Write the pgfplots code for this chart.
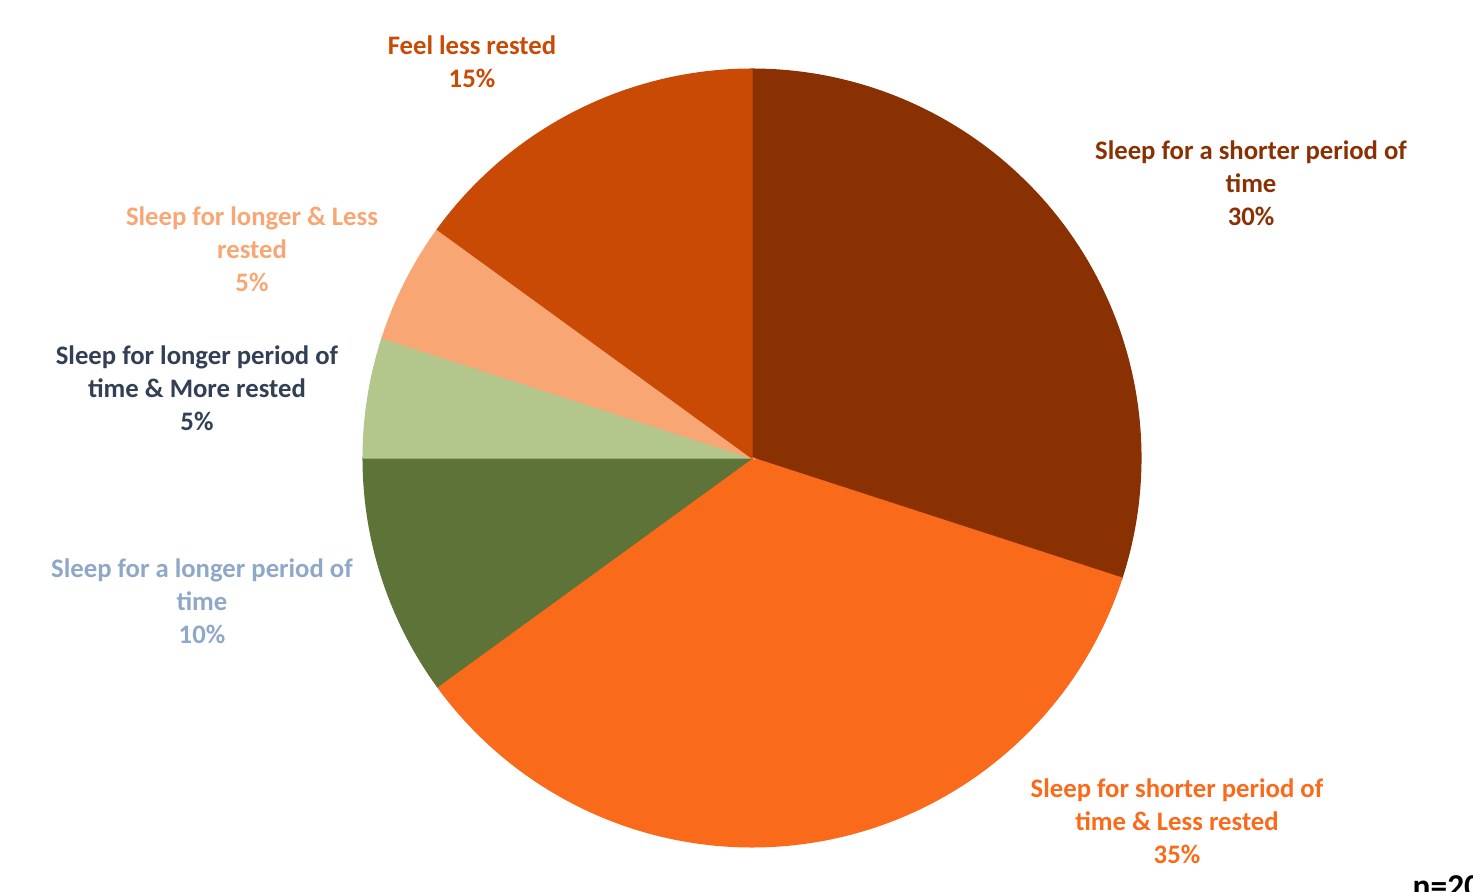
\documentclass[border=0pt]{standalone}
\usepackage{pgfplots}
\pgfplotsset{compat=1.18}
\usepackage{pgfplotstable}
\usepackage{fontspec}
\setmainfont{Carlito}
\definecolor{cBrown}{HTML}{8A3103}
\definecolor{cOrange}{HTML}{F96A1B}
\definecolor{cDGreen}{HTML}{5E7337}
\definecolor{cLGreen}{HTML}{B3C68B}
\definecolor{cPeach}{HTML}{F9A675}
\definecolor{cDOrange}{HTML}{C84A05}
\definecolor{cNavy}{HTML}{323F55}
\definecolor{cBlue}{HTML}{8FA8C8}
\tikzset{lbl/.style={font=\bfseries\fontsize{7.6}{9.4}\selectfont, align=center}}
% percent shares, clockwise from 12 o'clock
\pgfplotstableread{
pct
30
35
10
5
5
15
}\piedata
\begin{document}
\begin{tikzpicture}
\begin{axis}[
  width=14.73cm, height=8.91cm, scale only axis,
  xmin=-1.9282, xmax=1.8487, ymin=-1.1103, ymax=1.1744,
  hide axis, clip=false,
]
% slice angles: start 90, each share * 3.6 degrees clockwise
\addplot[fill=cBrown, draw=cBrown, domain=90:-18, samples=120, variable=\t] ({0.997*cos(\t)},{0.997*sin(\t)}) -- (axis cs:0,0) -- cycle;
\addplot[fill=cOrange, draw=cOrange, domain=-18:-144, samples=120, variable=\t] ({0.997*cos(\t)},{0.997*sin(\t)}) -- (axis cs:0,0) -- cycle;
\addplot[fill=cDGreen, draw=cDGreen, domain=-144:-180, samples=60, variable=\t] ({0.997*cos(\t)},{0.997*sin(\t)}) -- (axis cs:0,0) -- cycle;
\addplot[fill=cLGreen, draw=cLGreen, domain=180:162, samples=40, variable=\t] ({0.997*cos(\t)},{0.997*sin(\t)}) -- (axis cs:0,0) -- cycle;
\addplot[fill=cPeach, draw=cPeach, domain=162:144, samples=40, variable=\t] ({0.997*cos(\t)},{0.997*sin(\t)}) -- (axis cs:0,0) -- cycle;
\addplot[fill=cDOrange, draw=cDOrange, domain=144:90, samples=80, variable=\t] ({0.997*cos(\t)},{0.997*sin(\t)}) -- (axis cs:0,0) -- cycle;

\node[lbl, text=cDOrange] at (axis cs:-0.718,1.0154) {Feel less rested\\15\%};
\node[lbl, text=cBrown] at (axis cs:1.2795,0.7051) {Sleep for a shorter period of\\time\\30\%};
\node[lbl, text=cPeach] at (axis cs:-1.2821,0.5359) {Sleep for longer \& Less\\rested\\5\%};
\node[lbl, text=cNavy] at (axis cs:-1.4231,0.1795) {Sleep for longer period of\\time \& More rested\\5\%};
\node[lbl, text=cBlue] at (axis cs:-1.4103,-0.3667) {Sleep for a longer period of\\time\\10\%};
\node[lbl, text=cOrange] at (axis cs:1.0897,-0.9308) {Sleep for shorter period of\\time \& Less rested\\35\%};
\node[anchor=base west, inner sep=0pt, font=\bfseries\fontsize{9.5}{11}\selectfont] at (axis cs:1.6923,-1.1282) {n=20};
\end{axis}
\pgfresetboundingbox
\useasboundingbox (current axis.south west) rectangle (current axis.north east);
\end{tikzpicture}
\end{document}
